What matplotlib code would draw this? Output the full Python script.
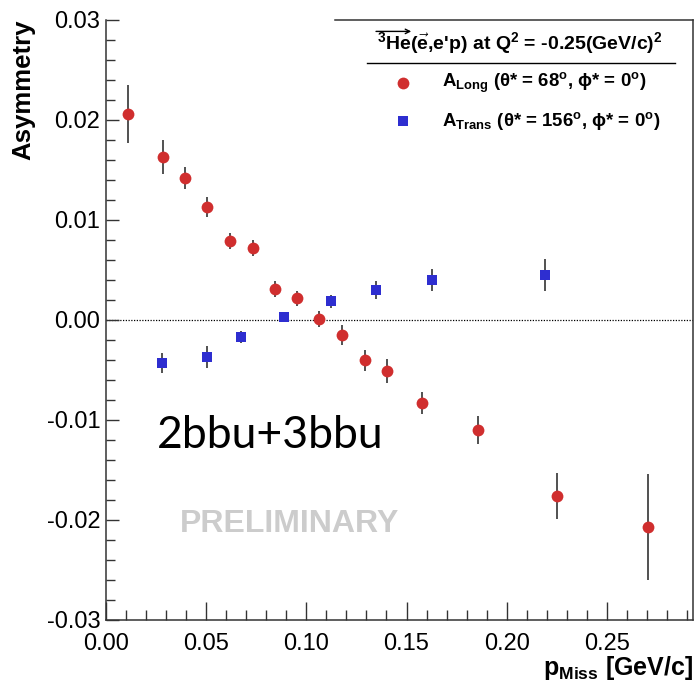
import matplotlib
matplotlib.use("Agg")
import matplotlib.pyplot as plt
from matplotlib.ticker import MultipleLocator, FormatStrFormatter

plt.rcParams['font.family'] = ['Liberation Sans', 'DejaVu Sans']
plt.rcParams['mathtext.fontset'] = 'custom'
plt.rcParams['mathtext.rm'] = 'Liberation Sans:bold'
plt.rcParams['mathtext.it'] = 'Liberation Sans:bold'
plt.rcParams['mathtext.bf'] = 'Liberation Sans:bold'
plt.rcParams['mathtext.sf'] = 'Liberation Sans:bold'

# ---- data ----
long_x = [0.0111, 0.0283, 0.0396, 0.0506, 0.0621, 0.0732, 0.0844, 0.0952,
          0.1065, 0.1177, 0.1293, 0.1405, 0.1576, 0.1857, 0.2250, 0.2704]
long_y = [0.0206, 0.0163, 0.0142, 0.01127, 0.0079, 0.0072, 0.0031, 0.0022,
          0.0001, -0.0015, -0.0040, -0.0051, -0.0083, -0.0110, -0.01757, -0.02067]
long_err = [0.0029, 0.0017, 0.0011, 0.0010, 0.0008, 0.0008, 0.0008, 0.00075,
            0.0008, 0.0010, 0.00105, 0.0012, 0.0011, 0.0014, 0.0023, 0.0053]

trans_x = [0.0280, 0.0504, 0.0674, 0.0890, 0.1122, 0.1348, 0.1629, 0.2193]
trans_y = [-0.0043, -0.0037, -0.00167, 0.00033, 0.0019, 0.00297, 0.00397, 0.00453]
trans_err = [0.0010, 0.0011, 0.0006, 0.0003, 0.00065, 0.0009, 0.0011, 0.0016]

x_ticks = [0.00, 0.05, 0.10, 0.15, 0.20, 0.25]
y_ticks = [-0.03, -0.02, -0.01, 0.00, 0.01, 0.02, 0.03]

red = '#d02e2e'
blue = '#2e2ed0'

fig = plt.figure(figsize=(6.96, 6.94), dpi=100)
ax = fig.add_axes([106/696, 1-620/694, (693-106)/696, (620-20)/694])

ax.set_xlim(0, 0.293)
ax.set_ylim(-0.03, 0.03)

ax.axhline(0, color='black', lw=0.9, ls=(0, (1, 1.2)), zorder=1)

ax.errorbar(long_x, long_y, yerr=long_err, fmt='o', color=red, ms=8.5,
            ecolor='#222222', elinewidth=1.1, capsize=2, capthick=1.1, zorder=3,
            markeredgewidth=0)
ax.errorbar(trans_x, trans_y, yerr=trans_err, fmt='s', color=blue, ms=7.5,
            ecolor='#222222', elinewidth=1.1, capsize=2, capthick=1.1, zorder=3,
            markeredgewidth=0)

# axes / ticks
ax.set_xticks(x_ticks)
ax.set_yticks(y_ticks)
ax.xaxis.set_major_formatter(FormatStrFormatter('%.2f'))
ax.yaxis.set_major_formatter(FormatStrFormatter('%.2f'))
ax.xaxis.set_minor_locator(MultipleLocator(0.01))
ax.yaxis.set_minor_locator(MultipleLocator(0.002))
ax.tick_params(axis='x', which='major', direction='in', length=13, width=1.0,
               labelsize=17, pad=9, color='#333333')
ax.tick_params(axis='x', which='minor', direction='in', length=7, width=1.0,
               color='#333333')
ax.tick_params(axis='y', which='major', direction='in', length=9.5, width=1.0,
               labelsize=17, pad=4, color='#333333')
ax.tick_params(axis='y', which='minor', direction='in', length=6.5, width=1.0,
               color='#333333')
ax.tick_params(top=False, right=False)
for s in ['left', 'bottom', 'right']:
    ax.spines[s].set_color('#333333')
    ax.spines[s].set_linewidth(1.1)
ax.spines['top'].set_visible(False)

ax.set_ylabel('Asymmetry', fontsize=18.5, fontweight='bold', loc='top', labelpad=8)
ax.set_xlabel(r'$\mathbf{p_{Miss}}$ [GeV/c]', fontsize=18, fontweight='bold',
              loc='right', labelpad=0)

# legend box (top line)
ax.plot([0.39, 1.0], [1.0, 1.0], transform=ax.transAxes, color='#333333',
        lw=1.1, clip_on=False)

# legend title and entries
ax.text(0.705, 0.962,
        r"$^{3}$He($\vec{\mathrm{e}}$,e'p) at Q$^{2}$ = -0.25(GeV/c)$^{2}$",
        transform=ax.transAxes, ha='center', va='center', fontsize=14,
        fontweight='bold')
ax.annotate('', xy=(0.520, 0.981), xytext=(0.460, 0.981), xycoords='axes fraction',
            arrowprops=dict(arrowstyle='->', lw=1.0, color='black',
                            shrinkA=0, shrinkB=0, mutation_scale=8))
ax.plot([0.444, 0.969], [0.929, 0.929], transform=ax.transAxes, color='black', lw=1.0)

ax.plot(0.506, 0.895, 'o', color=red, ms=8.5, mew=0, transform=ax.transAxes)
ax.plot(0.506, 0.832, 's', color=blue, ms=7.5, mew=0, transform=ax.transAxes)
ax.text(0.572, 0.895, r'A$_{\mathrm{Long}}$ ($\theta$* = 68$^{\mathrm{o}}$, $\phi$* = 0$^{\mathrm{o}}$)',
        transform=ax.transAxes, ha='left', va='center', fontsize=13.4, fontweight='bold')
ax.text(0.572, 0.832, r'A$_{\mathrm{Trans}}$ ($\theta$* = 156$^{\mathrm{o}}$, $\phi$* = 0$^{\mathrm{o}}$)',
        transform=ax.transAxes, ha='left', va='center', fontsize=13.4, fontweight='bold')

# annotations
ax.text((157-106)/587, (620-436)/600, '2bbu+3bbu', transform=ax.transAxes,
        ha='left', va='center', fontsize=32, family='Lato', color='black')
ax.text((180-106)/587, (620-524)/600, 'PRELIMINARY', transform=ax.transAxes,
        ha='left', va='center', fontsize=23, fontweight='bold', color='#cccccc')

fig.savefig('out.png', dpi=100)
